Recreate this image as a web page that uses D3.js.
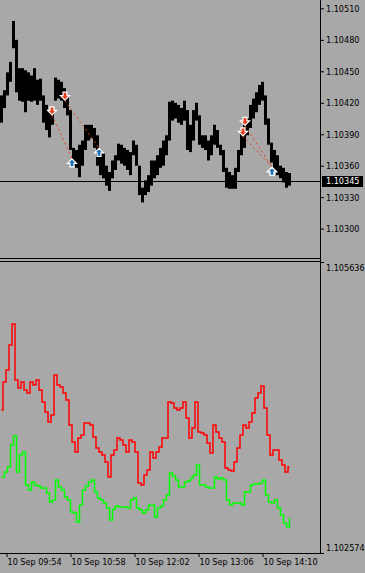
<!DOCTYPE html>
<html>
<head>
<meta charset="utf-8">
<script src="https://cdn.jsdelivr.net/npm/d3@7"></script>
<style>
body { margin: 0; background: #a8a8a8; }
svg { display: block; }
text { font-family: "DejaVu Sans Condensed", "DejaVu Sans", sans-serif; font-stretch: condensed; font-size: 9px; fill: #000; }
</style>
</head>
<body>
<div id="chart"></div>
<script>
// EURUSD, 10 Sep, bars every 3 minutes from 09:48
const startTime = new Date(2019, 8, 10, 9, 48);
const barStep = 3;

const barHigh = [1.10427,1.10432,1.10449,1.10459,1.10498,1.10480,1.10453,1.10453,1.10451,1.10449,
 1.10446,1.10453,1.10442,1.10443,1.10427,1.10418,1.10413,1.10415,1.10444,1.10442,
 1.10440,1.10434,1.10427,1.10413,1.10377,1.10375,1.10380,1.10384,1.10399,1.10399,
 1.10399,1.10396,1.10389,1.10375,1.10372,1.10360,1.10354,1.10365,1.10370,1.10381,
 1.10380,1.10377,1.10375,1.10373,1.10384,1.10380,1.10360,1.10339,1.10346,1.10351,
 1.10365,1.10365,1.10370,1.10377,1.10384,1.10389,1.10421,1.10422,1.10420,1.10418,
 1.10415,1.10422,1.10413,1.10399,1.10413,1.10420,1.10408,1.10389,1.10389,1.10384,
 1.10389,1.10399,1.10394,1.10380,1.10375,1.10358,1.10354,1.10351,1.10358,1.10375,
 1.10394,1.10401,1.10405,1.10418,1.10424,1.10430,1.10437,1.10440,1.10427,1.10405,
 1.10382,1.10375,1.10370,1.10360,1.10358,1.10354,1.10353];

const barLow = [1.10401,1.10415,1.10427,1.10440,1.10472,1.10430,1.10422,1.10421,1.10411,1.10422,
 1.10421,1.10422,1.10418,1.10422,1.10401,1.10394,1.10387,1.10399,1.10422,1.10424,
 1.10422,1.10415,1.10408,1.10375,1.10360,1.10358,1.10349,1.10360,1.10375,1.10384,
 1.10386,1.10377,1.10360,1.10351,1.10348,1.10341,1.10336,1.10348,1.10356,1.10365,
 1.10362,1.10360,1.10356,1.10351,1.10370,1.10360,1.10332,1.10325,1.10332,1.10335,
 1.10341,1.10348,1.10351,1.10358,1.10360,1.10370,1.10384,1.10403,1.10405,1.10401,
 1.10399,1.10403,1.10375,1.10373,1.10384,1.10403,1.10380,1.10377,1.10375,1.10365,
 1.10370,1.10380,1.10377,1.10370,1.10354,1.10339,1.10338,1.10338,1.10338,1.10354,
 1.10370,1.10377,1.10389,1.10396,1.10405,1.10411,1.10418,1.10422,1.10399,1.10380,
 1.10363,1.10356,1.10351,1.10348,1.10344,1.10339,1.10341];

const lastPrice = 1.10345;

// trades: open (sell, red) -> close (blue), minutes after start
const openMin = [52, 65, 243, 245];
const openPrice = [1.10408, 1.10422, 1.10388, 1.10398];
const closeMin = [72, 99, 272, 272];
const closePrice = [1.10367, 1.10377, 1.10359, 1.10359];

// indicator window
const redLine = [1.104078,1.104373,1.104499,1.104762,1.104983,1.104394,1.104310,1.104373,1.104289,1.104257,
 1.104373,1.104341,1.104394,1.104289,1.104163,1.104057,1.103952,1.104026,1.104447,1.104341,
 1.104320,1.104257,1.104184,1.103921,1.103742,1.103637,1.103784,1.103815,1.103942,1.103942,
 1.103921,1.103794,1.103679,1.103637,1.103605,1.103531,1.103374,1.103605,1.103658,1.103784,
 1.103763,1.103710,1.103637,1.103763,1.103742,1.103637,1.103310,1.103289,1.103395,1.103447,
 1.103637,1.103573,1.103637,1.103689,1.103784,1.103784,1.104163,1.104152,1.104099,1.104078,
 1.104099,1.104163,1.103994,1.103784,1.103889,1.104163,1.103847,1.103836,1.103815,1.103731,
 1.103626,1.103921,1.103847,1.103784,1.103742,1.103468,1.103447,1.103437,1.103531,1.103679,
 1.103815,1.103921,1.103889,1.103952,1.104047,1.104205,1.104257,1.104331,1.104099,1.103815,
 1.103605,1.103658,1.103658,1.103552,1.103500,1.103426,1.103479];

const greenLine = [1.103374,1.103426,1.103479,1.103710,1.103805,1.103426,1.103605,1.103637,1.103289,1.103237,
 1.103321,1.103289,1.103279,1.103258,1.103258,1.103205,1.103111,1.103132,1.103342,1.103268,
 1.103237,1.103163,1.103132,1.103005,1.102995,1.102900,1.103079,1.103237,1.103279,1.103321,
 1.103342,1.103216,1.103153,1.103132,1.103100,1.103047,1.102921,1.103037,1.103068,1.103058,
 1.103058,1.103058,1.103047,1.103132,1.103153,1.103047,1.103026,1.102995,1.103026,1.103079,
 1.103079,1.102953,1.103047,1.103068,1.103132,1.103184,1.103416,1.103384,1.103342,1.103268,
 1.103268,1.103321,1.103331,1.103363,1.103395,1.103500,1.103289,1.103289,1.103268,1.103258,
 1.103258,1.103374,1.103353,1.103363,1.103342,1.103132,1.103079,1.103100,1.103100,1.103100,
 1.103079,1.103216,1.103216,1.103289,1.103300,1.103300,1.103310,1.103342,1.103184,1.103111,
 1.103100,1.103132,1.103047,1.102974,1.102890,1.102848,1.102942];

const priceTicks = [1.10510, 1.10480, 1.10450, 1.10420, 1.10390, 1.10360, 1.10330, 1.10300];
const indTicks = [1.105636, 1.102574];
const timeTicks = ["09:54", "10:58", "12:02", "13:06", "14:10"];

const width = 365, height = 573;
const plotRight = 320;

const svg = d3.select("#chart").append("svg")
    .attr("width", width)
    .attr("height", height);

svg.append("rect").attr("width", width).attr("height", height).attr("fill", "#a8a8a8");

const t = m => d3.timeMinute.offset(startTime, m);
const x = d3.scaleTime()
    .domain([startTime, t(plotRight)])
    .range([0, plotRight]);

const yTop = d3.scaleLinear().domain([1.10272, 1.10518]).range([258, 0]);
const yBot = d3.scaleLinear().domain([1.102574, 1.105636]).range([553, 262]);

// price bars
svg.append("g")
    .selectAll("rect")
    .data(barHigh)
    .join("rect")
    .attr("x", (d, i) => x(t(i * barStep)))
    .attr("width", (d, i) => x(t((i + 1) * barStep)) - x(t(i * barStep)))
    .attr("y", d => yTop(d))
    .attr("height", (d, i) => Math.max(1, yTop(barLow[i]) - yTop(d)))
    .attr("fill", "#000");

// current price line
svg.append("line")
    .attr("x1", 0).attr("x2", plotRight)
    .attr("y1", Math.round(yTop(lastPrice)) + 0.5).attr("y2", Math.round(yTop(lastPrice)) + 0.5)
    .attr("stroke", "#000");

// trade lines
svg.append("g")
    .selectAll("line")
    .data(openMin)
    .join("line")
    .attr("x1", d => x(t(d)))
    .attr("y1", (d, i) => yTop(openPrice[i]))
    .attr("x2", (d, i) => x(t(closeMin[i])))
    .attr("y2", (d, i) => yTop(closePrice[i]))
    .attr("stroke", "#e8401c")
    .attr("stroke-width", 1)
    .attr("stroke-dasharray", "2,3");

const downArrow = "M-2,-8.5 L2,-8.5 L2,-5 L4.5,-5 L0,-0.5 L-4.5,-5 L-2,-5 Z";
const upArrow = "M-2,8.5 L2,8.5 L2,5 L4.5,5 L0,0.5 L-4.5,5 L-2,5 Z";

svg.append("g")
    .selectAll("path")
    .data(openMin)
    .join("path")
    .attr("transform", (d, i) => `translate(${x(t(d))},${yTop(openPrice[i])})`)
    .attr("d", downArrow)
    .attr("fill", "#e8401c")
    .attr("stroke", "#fff")
    .attr("stroke-width", 1.2);

svg.append("g")
    .selectAll("path")
    .data(closeMin)
    .join("path")
    .attr("transform", (d, i) => `translate(${x(t(d))},${yTop(closePrice[i])})`)
    .attr("d", upArrow)
    .attr("fill", "#1f6fb5")
    .attr("stroke", "#fff")
    .attr("stroke-width", 1.2);

// indicator lines
const lineX = (d, i) => x(t(i * barStep)) + 1.5;
svg.append("path")
    .datum(redLine)
    .attr("d", d3.line().x(lineX).y(d => yBot(d)).curve(d3.curveStep))
    .attr("fill", "none")
    .attr("stroke", "#ff0000")
    .attr("stroke-width", 1.5);

svg.append("path")
    .datum(greenLine)
    .attr("d", d3.line().x(lineX).y(d => yBot(d)).curve(d3.curveStepAfter))
    .attr("fill", "none")
    .attr("stroke", "#00ff00")
    .attr("stroke-width", 1.5);

// frame lines
svg.append("line").attr("x1", plotRight + 0.5).attr("x2", plotRight + 0.5).attr("y1", 0).attr("y2", 553).attr("stroke", "#000");
svg.append("line").attr("x1", 0).attr("x2", plotRight).attr("y1", 258.5).attr("y2", 258.5).attr("stroke", "#000");
svg.append("line").attr("x1", 0).attr("x2", plotRight).attr("y1", 261.5).attr("y2", 261.5).attr("stroke", "#000");
svg.append("line").attr("x1", 0).attr("x2", plotRight + 1).attr("y1", 553.5).attr("y2", 553.5).attr("stroke", "#000");

// right axes
const axTop = svg.append("g")
    .attr("transform", `translate(${plotRight},0)`)
    .call(d3.axisRight(yTop).tickValues(priceTicks).tickSize(4).tickPadding(2).tickFormat(d3.format(".5f")));
axTop.select(".domain").remove();
axTop.selectAll("text").attr("font-family", null).attr("font-size", null).attr("fill", "#000");

const axBot = svg.append("g")
    .attr("transform", `translate(${plotRight},0)`)
    .call(d3.axisRight(yBot).tickValues(indTicks).tickSize(4).tickPadding(2).tickFormat(d3.format(".6f")));
axBot.select(".domain").remove();
axBot.selectAll("text").attr("font-family", null).attr("font-size", null).attr("fill", "#000")
    .attr("dy", d => d > 1.104 ? "0.95em" : "-0.25em");

// current price label
const lp = Math.round(yTop(lastPrice));
svg.append("rect")
    .attr("x", plotRight + 2).attr("y", lp - 5)
    .attr("width", 41).attr("height", 11)
    .attr("fill", "#000");
svg.append("text")
    .attr("x", plotRight + 6).attr("y", lp + 0.5)
    .attr("dy", "0.32em")
    .style("fill", "#fff")
    .text(d3.format(".5f")(lastPrice));

// time axis
const parseHM = s => { const [h, m] = s.split(":").map(Number); return new Date(2019, 8, 10, h, m); };
const axTime = svg.append("g")
    .attr("transform", "translate(0,553)")
    .call(d3.axisBottom(x).tickValues(timeTicks.map(parseHM)).tickSize(4).tickPadding(2).tickFormat(d3.timeFormat("%d %b %H:%M")));
axTime.select(".domain").remove();
axTime.selectAll("line").attr("transform", "translate(0.5,0)");
axTime.selectAll("text").attr("font-family", null).attr("font-size", null).attr("fill", "#000")
    .attr("text-anchor", "start").attr("x", 1);
</script>
</body>
</html>
